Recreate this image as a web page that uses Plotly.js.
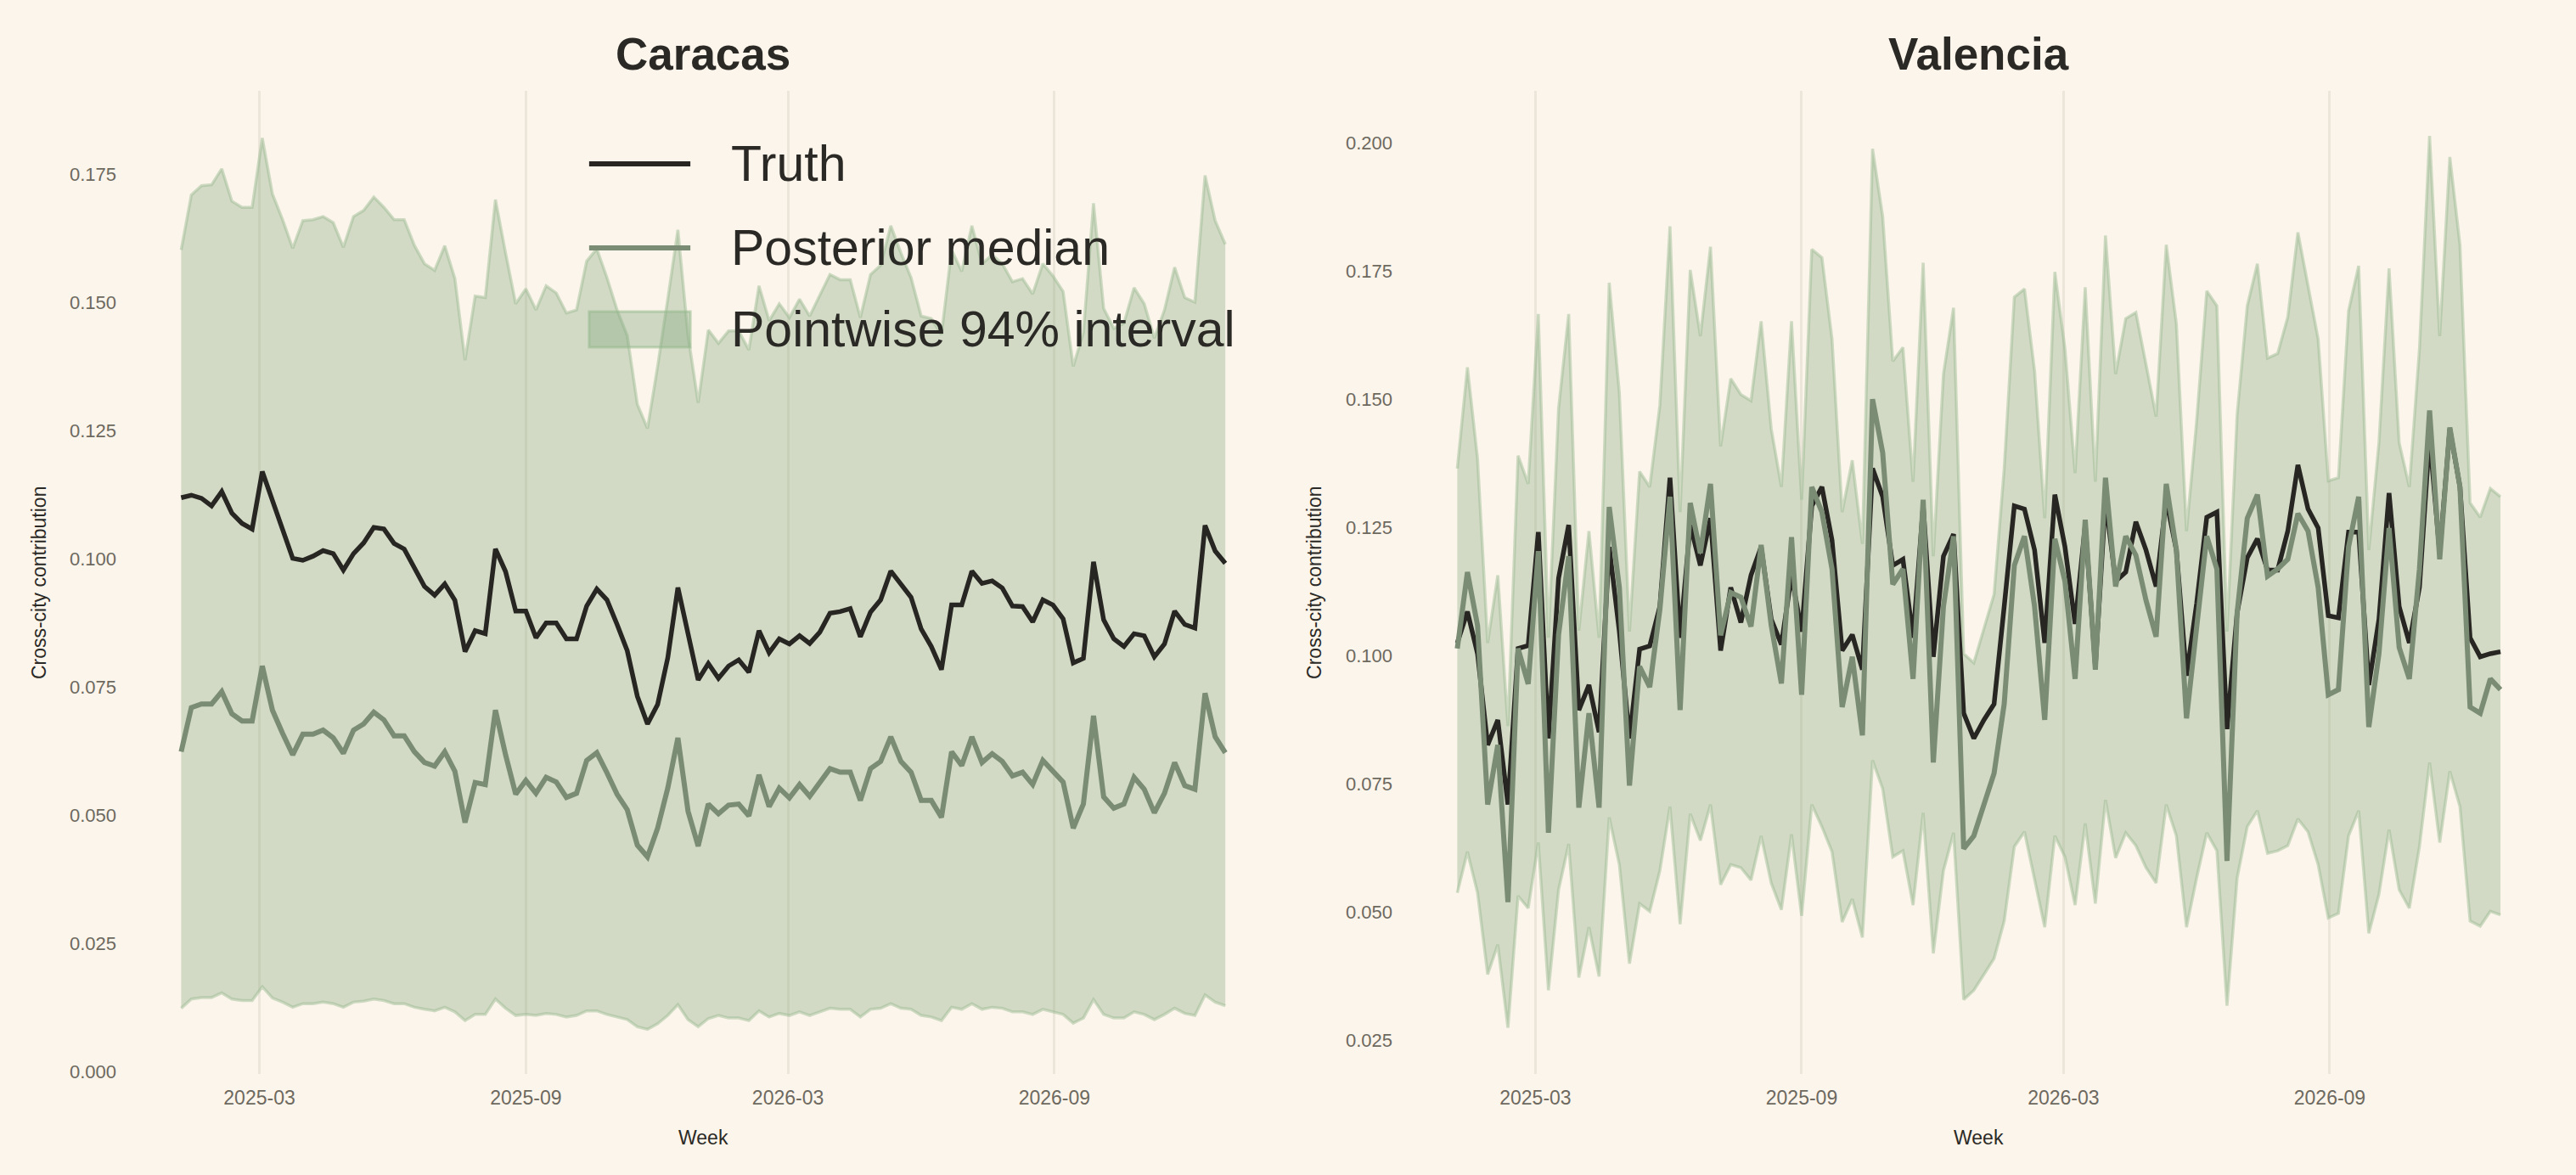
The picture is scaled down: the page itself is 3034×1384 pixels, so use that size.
<!DOCTYPE html>
<html>
<head>
<meta charset="utf-8">
<script src="https://cdn.plot.ly/plotly-3.0.1.min.js"></script>
<style>
  html, body { margin: 0; padding: 0; background: #fcf5eb; }
  #chart { width: 3034px; height: 1384px; }
</style>
</head>
<body>
<div id="chart"></div>
<script>
// ---- data ----
const startWeek = '2025-01-06';
const nWeeks = 104;
const panelNames = ['Caracas', 'Valencia'];
const xTickFormat = '%Y-%m';
const legendLabels = ['Truth', 'Posterior median', 'Pointwise 94% interval'];
const yAxisLabel = 'Cross-city contribution';
const xAxisLabel = 'Week';

const caracasTruth = [
0.1119,0.1124,0.1118,0.1103,0.1131,0.1089,0.1069,0.1058,0.1170,0.1115,
0.1059,0.1001,0.0997,0.1005,0.1016,0.1010,0.0978,0.1010,0.1031,0.1061,
0.1058,0.1030,0.1019,0.0982,0.0946,0.0929,0.0951,0.0919,0.0819,0.0860,
0.0854,0.1019,0.0975,0.0898,0.0898,0.0846,0.0875,0.0875,0.0844,0.0844,
0.0908,0.0941,0.0920,0.0872,0.0821,0.0732,0.0678,0.0716,0.0807,0.0944,
0.0851,0.0764,0.0796,0.0767,0.0791,0.0803,0.0779,0.0860,0.0817,0.0844,
0.0834,0.0850,0.0835,0.0857,0.0894,0.0897,0.0903,0.0848,0.0896,0.0920,
0.0976,0.0950,0.0925,0.0863,0.0829,0.0784,0.0910,0.0910,0.0976,0.0952,
0.0957,0.0943,0.0908,0.0907,0.0877,0.0920,0.0910,0.0883,0.0797,0.0806,
0.0994,0.0881,0.0844,0.0829,0.0854,0.0850,0.0809,0.0834,0.0898,0.0872,
0.0865,0.1065,0.1015,0.0991];

const caracasMedian = [
0.0624,0.0710,0.0717,0.0717,0.0741,0.0698,0.0684,0.0684,0.0791,0.0705,
0.0660,0.0618,0.0658,0.0658,0.0666,0.0651,0.0621,0.0666,0.0678,0.0701,
0.0686,0.0655,0.0655,0.0624,0.0603,0.0596,0.0624,0.0586,0.0486,0.0564,
0.0560,0.0705,0.0618,0.0541,0.0568,0.0543,0.0574,0.0565,0.0535,0.0543,
0.0607,0.0622,0.0583,0.0541,0.0511,0.0442,0.0419,0.0475,0.0553,0.0651,
0.0508,0.0440,0.0522,0.0503,0.0520,0.0522,0.0499,0.0579,0.0517,0.0553,
0.0534,0.0560,0.0537,0.0565,0.0591,0.0584,0.0584,0.0529,0.0591,0.0605,
0.0653,0.0605,0.0584,0.0529,0.0529,0.0496,0.0624,0.0597,0.0653,0.0603,
0.0620,0.0605,0.0577,0.0584,0.0560,0.0607,0.0586,0.0565,0.0475,0.0522,
0.0694,0.0536,0.0514,0.0522,0.0574,0.0551,0.0505,0.0543,0.0603,0.0558,
0.0551,0.0738,0.0653,0.0622];

const caracasUpper = [
0.1602,0.1709,0.1727,0.1729,0.1760,0.1697,0.1685,0.1685,0.1820,0.1711,
0.1661,0.1605,0.1659,0.1661,0.1667,0.1655,0.1607,0.1667,0.1679,0.1705,
0.1685,0.1661,0.1661,0.1611,0.1575,0.1562,0.1610,0.1546,0.1387,0.1512,
0.1509,0.1700,0.1596,0.1497,0.1526,0.1485,0.1532,0.1518,0.1479,0.1485,
0.1580,0.1604,0.1548,0.1485,0.1435,0.1301,0.1254,0.1375,0.1506,0.1641,
0.1435,0.1304,0.1446,0.1420,0.1444,0.1444,0.1407,0.1532,0.1464,0.1497,
0.1470,0.1506,0.1473,0.1512,0.1554,0.1544,0.1544,0.1470,0.1554,0.1572,
0.1649,0.1596,0.1548,0.1473,0.1468,0.1437,0.1602,0.1560,0.1649,0.1575,
0.1592,0.1575,0.1540,0.1546,0.1516,0.1575,0.1551,0.1521,0.1375,0.1441,
0.1693,0.1488,0.1449,0.1459,0.1528,0.1497,0.1430,0.1485,0.1568,0.1509,
0.1500,0.1747,0.1659,0.1613];

const caracasLower = [
0.0124,0.0142,0.0145,0.0145,0.0154,0.0142,0.0139,0.0139,0.0166,0.0144,
0.0136,0.0126,0.0133,0.0133,0.0136,0.0133,0.0126,0.0136,0.0138,0.0142,
0.0139,0.0133,0.0133,0.0126,0.0122,0.0119,0.0126,0.0117,0.0100,0.0112,
0.0112,0.0142,0.0124,0.0110,0.0112,0.0110,0.0114,0.0112,0.0107,0.0110,
0.0119,0.0119,0.0112,0.0107,0.0102,0.0088,0.0083,0.0094,0.0110,0.0131,
0.0102,0.0088,0.0104,0.0110,0.0105,0.0105,0.0100,0.0119,0.0107,0.0114,
0.0110,0.0117,0.0110,0.0117,0.0124,0.0122,0.0122,0.0107,0.0122,0.0124,
0.0133,0.0124,0.0122,0.0110,0.0107,0.0100,0.0126,0.0122,0.0133,0.0122,
0.0126,0.0124,0.0117,0.0117,0.0112,0.0122,0.0117,0.0112,0.0095,0.0105,
0.0141,0.0112,0.0105,0.0105,0.0117,0.0112,0.0102,0.0112,0.0124,0.0114,
0.0110,0.0150,0.0136,0.0129];

const valenciaTruth = [
0.1025,0.1086,0.1004,0.0826,0.0875,0.0710,0.1014,0.1020,0.1241,0.0839,
0.1151,0.1255,0.0894,0.0943,0.0851,0.1212,0.1047,0.0839,0.1013,0.1019,
0.1096,0.1347,0.1035,0.1255,0.1176,0.1268,0.1010,0.1133,0.1065,0.1157,
0.1212,0.1071,0.1022,0.1157,0.1047,0.1292,0.1329,0.1225,0.1010,0.1041,
0.0973,0.1365,0.1310,0.1176,0.1188,0.1035,0.1292,0.0998,0.1194,0.1237,
0.0888,0.0839,0.0875,0.0906,0.1096,0.1292,0.1286,0.1206,0.1025,0.1314,
0.1212,0.1062,0.1255,0.0979,0.1304,0.1145,0.1163,0.1261,0.1206,0.1135,
0.1304,0.1206,0.0961,0.1102,0.1270,0.1280,0.0857,0.1084,0.1191,0.1228,
0.1167,0.1167,0.1243,0.1372,0.1286,0.1249,0.1078,0.1074,0.1241,0.1241,
0.0943,0.1071,0.1317,0.1096,0.1025,0.1133,0.1427,0.1200,0.1442,0.1329,
0.1035,0.0998,0.1004,0.1008];

const valenciaMedian = [
0.1014,0.1163,0.1059,0.0710,0.0826,0.0520,0.1014,0.0945,0.1204,0.0655,
0.1041,0.1194,0.0704,0.0888,0.0704,0.1290,0.1133,0.0747,0.0979,0.0939,
0.1090,0.1310,0.0894,0.1298,0.1200,0.1335,0.1040,0.1123,0.1114,0.1057,
0.1216,0.1059,0.0946,0.1231,0.0924,0.1329,0.1280,0.1169,0.0900,0.0998,
0.0845,0.1500,0.1396,0.1139,0.1169,0.0955,0.1304,0.0792,0.1096,0.1233,
0.0624,0.0649,0.0710,0.0771,0.0906,0.1176,0.1233,0.1096,0.0875,0.1228,
0.1145,0.0955,0.1265,0.0973,0.1347,0.1135,0.1233,0.1196,0.1108,0.1037,
0.1335,0.1206,0.0878,0.1047,0.1233,0.1169,0.0600,0.1084,0.1268,0.1314,
0.1155,0.1169,0.1188,0.1277,0.1243,0.1133,0.0924,0.0934,0.1212,0.1310,
0.0861,0.1004,0.1249,0.1016,0.0955,0.1169,0.1478,0.1188,0.1445,0.1329,
0.0900,0.0888,0.0955,0.0934];

const valenciaUpper = [
0.1365,0.1562,0.1384,0.1025,0.1157,0.0863,0.1390,0.1335,0.1666,0.1035,
0.1482,0.1666,0.1049,0.1243,0.1035,0.1727,0.1513,0.1047,0.1359,0.1329,
0.1488,0.1837,0.1280,0.1752,0.1623,0.1797,0.1408,0.1540,0.1509,0.1497,
0.1652,0.1442,0.1329,0.1652,0.1304,0.1792,0.1776,0.1617,0.1280,0.1381,
0.1218,0.1988,0.1856,0.1574,0.1601,0.1339,0.1766,0.1194,0.1549,0.1678,
0.1004,0.0986,0.1053,0.1120,0.1365,0.1699,0.1715,0.1555,0.1268,0.1748,
0.1598,0.1356,0.1718,0.1339,0.1819,0.1549,0.1657,0.1669,0.1568,0.1466,
0.1801,0.1647,0.1243,0.1457,0.1711,0.1682,0.1047,0.1470,0.1682,0.1764,
0.1580,0.1589,0.1660,0.1825,0.1721,0.1617,0.1341,0.1347,0.1672,0.1760,
0.1206,0.1415,0.1755,0.1415,0.1329,0.1598,0.2013,0.1623,0.1972,0.1801,
0.1298,0.1270,0.1326,0.1310];

const valenciaLower = [
0.0538,0.0618,0.0538,0.0379,0.0437,0.0275,0.0532,0.0508,0.0636,0.0348,
0.0544,0.0633,0.0373,0.0471,0.0375,0.0685,0.0593,0.0400,0.0517,0.0502,
0.0581,0.0706,0.0477,0.0692,0.0640,0.0710,0.0554,0.0593,0.0587,0.0563,
0.0649,0.0557,0.0505,0.0652,0.0493,0.0710,0.0667,0.0618,0.0481,0.0526,
0.0451,0.0796,0.0741,0.0608,0.0620,0.0514,0.0694,0.0420,0.0581,0.0655,
0.0330,0.0348,0.0379,0.0410,0.0483,0.0628,0.0657,0.0567,0.0471,0.0649,
0.0608,0.0514,0.0673,0.0517,0.0719,0.0606,0.0655,0.0630,0.0587,0.0557,
0.0710,0.0649,0.0471,0.0567,0.0655,0.0620,0.0318,0.0567,0.0667,0.0698,
0.0615,0.0620,0.0630,0.0682,0.0657,0.0593,0.0489,0.0498,0.0649,0.0698,
0.0459,0.0535,0.0661,0.0544,0.0508,0.0628,0.0792,0.0636,0.0775,0.0706,
0.0483,0.0473,0.0502,0.0495];

// weekly dates
const weeks = [];
(function () {
  const d0 = new Date(startWeek + 'T00:00:00Z');
  for (let i = 0; i < nWeeks; i++) {
    const d = new Date(d0.getTime() + i * 7 * 86400000);
    weeks.push(d.toISOString().slice(0, 10));
  }
})();

// ---- style ----
const BG = '#fcf5eb';
const TRUTH = '#272622';
const MEDIAN = '#7a8c74';
const BAND_FILL = 'rgba(135,171,129,0.36)';
const BAND_EDGE = 'rgba(150,185,142,0.45)';
const GRID = '#ece5d9';
const TICK = '#6d695f';
const TEXT = '#2a2925';
const FONT = 'Liberation Sans, Arial, Helvetica, sans-serif';

function panelTraces(lower, upper, truth, median, xa, ya) {
  return [
    { x: weeks, y: lower, xaxis: xa, yaxis: ya, type: 'scatter', mode: 'lines',
      line: { color: BAND_EDGE, width: 3.5 }, showlegend: false, hoverinfo: 'skip' },
    { x: weeks, y: upper, xaxis: xa, yaxis: ya, type: 'scatter', mode: 'lines',
      fill: 'tonexty', fillcolor: BAND_FILL,
      line: { color: BAND_EDGE, width: 3.5 }, name: legendLabels[2], showlegend: false },
    { x: weeks, y: truth, xaxis: xa, yaxis: ya, type: 'scatter', mode: 'lines',
      line: { color: TRUTH, width: 5.5 }, name: legendLabels[0], showlegend: false },
    { x: weeks, y: median, xaxis: xa, yaxis: ya, type: 'scatter', mode: 'lines',
      line: { color: MEDIAN, width: 6 }, name: legendLabels[1], showlegend: false }
  ];
}

const traces = [].concat(
  panelTraces(caracasLower, caracasUpper, caracasTruth, caracasMedian, 'x', 'y'),
  panelTraces(valenciaLower, valenciaUpper, valenciaTruth, valenciaMedian, 'x2', 'y2')
);

function xAxis(domain, anchor) {
  return {
    domain: domain, anchor: anchor, type: 'date',
    range: ['2024-12-01', '2027-02-02'],
    tick0: '2025-03-01', dtick: 'M6', tickformat: xTickFormat,
    showgrid: true, gridcolor: GRID, gridwidth: 3,
    zeroline: false, showline: false, ticks: '',
    ticklabelstandoff: 12,
    tickfont: { family: FONT, size: 23, color: TICK }
  };
}
function yAxis(domain, anchor, range, tick0) {
  return {
    domain: domain, anchor: anchor, range: range,
    tick0: tick0, dtick: 0.025, tickformat: '.3f',
    showgrid: false, zeroline: false, showline: false, ticks: '',
    ticklabelstandoff: 14,
    tickfont: { family: FONT, size: 22, color: TICK }
  };
}

const yDom = [0.086, 0.9227];
const xDom1 = [0.0501, 0.4959];
const xDom2 = [0.5455, 0.9909];

const annotations = [
  { text: '<b>' + panelNames[0] + '</b>', x: (xDom1[0] + xDom1[1]) / 2, y: 0.9538, xref: 'paper', yref: 'paper',
    xanchor: 'center', yanchor: 'middle', showarrow: false, font: { family: FONT, size: 53, color: TEXT } },
  { text: '<b>' + panelNames[1] + '</b>', x: (xDom2[0] + xDom2[1]) / 2, y: 0.9538, xref: 'paper', yref: 'paper',
    xanchor: 'center', yanchor: 'middle', showarrow: false, font: { family: FONT, size: 53, color: TEXT } },
  { text: xAxisLabel, x: (xDom1[0] + xDom1[1]) / 2, y: 0.0318, xref: 'paper', yref: 'paper',
    xanchor: 'center', yanchor: 'middle', showarrow: false, font: { family: FONT, size: 23, color: TEXT } },
  { text: xAxisLabel, x: (xDom2[0] + xDom2[1]) / 2, y: 0.0318, xref: 'paper', yref: 'paper',
    xanchor: 'center', yanchor: 'middle', showarrow: false, font: { family: FONT, size: 23, color: TEXT } },
  { text: yAxisLabel, x: 0.0152, y: (yDom[0] + yDom[1]) / 2, xref: 'paper', yref: 'paper', textangle: -90,
    xanchor: 'center', yanchor: 'middle', showarrow: false, font: { family: FONT, size: 23, color: TEXT } },
  { text: yAxisLabel, x: 0.5102, y: (yDom[0] + yDom[1]) / 2, xref: 'paper', yref: 'paper', textangle: -90,
    xanchor: 'center', yanchor: 'middle', showarrow: false, font: { family: FONT, size: 23, color: TEXT } }
];

// manual legend (Caracas panel, upper middle)
const legRows = [0.8606, 0.7890, 0.7197];
const legX0 = 0.2287, legX1 = 0.2680, legTextX = 0.2831;
legendLabels.forEach(function (lab, i) {
  annotations.push({ text: lab, x: legTextX, y: legRows[i], xref: 'paper', yref: 'paper',
    xanchor: 'left', yanchor: 'middle', showarrow: false, font: { family: FONT, size: 59, color: TEXT } });
});

const shapes = [
  { type: 'line', xref: 'paper', yref: 'paper', x0: legX0, x1: legX1, y0: legRows[0], y1: legRows[0],
    line: { color: TRUTH, width: 6 }, layer: 'above' },
  { type: 'line', xref: 'paper', yref: 'paper', x0: legX0, x1: legX1, y0: legRows[1], y1: legRows[1],
    line: { color: MEDIAN, width: 6 }, layer: 'above' },
  { type: 'rect', xref: 'paper', yref: 'paper', x0: legX0, x1: legX1, y0: 0.7045, y1: 0.7348,
    fillcolor: 'rgba(135,171,129,0.40)', line: { color: 'rgba(150,185,142,0.55)', width: 3 }, layer: 'above' }
];

const layout = {
  width: 3034, height: 1384, autosize: false,
  margin: { l: 0, r: 0, t: 0, b: 0 },
  paper_bgcolor: BG, plot_bgcolor: BG,
  showlegend: false,
  font: { family: FONT, color: TEXT },
  xaxis: xAxis(xDom1, 'y'),
  yaxis: yAxis(yDom, 'x', [-0.0004, 0.1912], 0),
  xaxis2: xAxis(xDom2, 'y2'),
  yaxis2: yAxis(yDom, 'x2', [0.0185, 0.2101], 0),
  annotations: annotations,
  shapes: shapes
};

Plotly.newPlot('chart', traces, layout, { staticPlot: true, displayModeBar: false });
</script>
</body>
</html>
